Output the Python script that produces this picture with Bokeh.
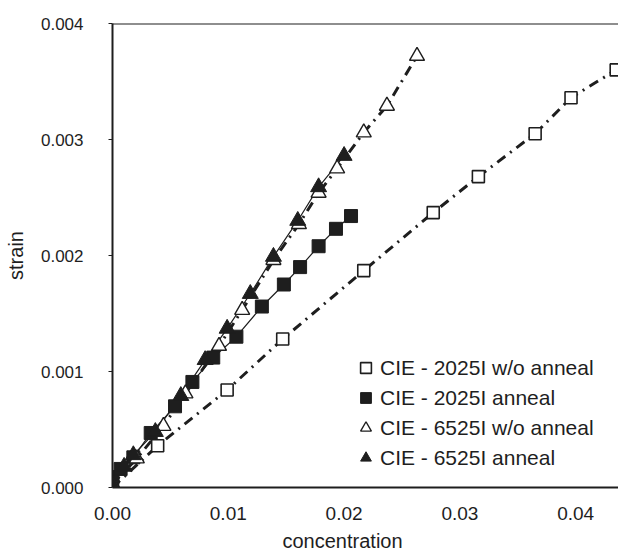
from bokeh.plotting import figure
from bokeh.models import Range1d, FixedTicker, Legend, LegendItem, Span, CustomJSTickFormatter, Title
from bokeh.embed import file_html
from bokeh.resources import INLINE

# 2025I without anneal (open squares)
sq_open_x = [0.0, 0.0039, 0.0099, 0.0147, 0.0217, 0.0277, 0.0316, 0.0365, 0.0396, 0.0435]
sq_open_y = [0.0, 0.00036, 0.00084, 0.00128, 0.00187, 0.00237, 0.00268, 0.00305, 0.00336, 0.00360]

# 2025I anneal (filled squares)
sq_fill_x = [0.0, 0.0007, 0.0018, 0.0033, 0.0054, 0.0069, 0.0087, 0.0107, 0.0129, 0.0148, 0.0162, 0.0178, 0.0193, 0.0206]
sq_fill_y = [0.00009, 0.00016, 0.00026, 0.00047, 0.00070, 0.00091, 0.00112, 0.00130, 0.00156, 0.00175, 0.00190, 0.00208, 0.00223, 0.00234]

# 6525I without anneal (open triangles)
tr_open_x = [0.0, 0.0021, 0.0044, 0.0063, 0.0092, 0.0112, 0.0139, 0.0161, 0.0178, 0.0194, 0.0217, 0.0237, 0.0263]
tr_open_y = [0.00003, 0.00025, 0.00053, 0.00081, 0.00122, 0.00153, 0.00196, 0.00227, 0.00254, 0.00275, 0.00306, 0.00329, 0.00372]

# 6525I anneal (filled triangles)
tr_fill_x = [0.0, 0.0010, 0.0018, 0.0037, 0.0059, 0.0080, 0.0099, 0.0119, 0.0139, 0.0160, 0.0178, 0.0200]
tr_fill_y = [0.00002, 0.00018, 0.00028, 0.00048, 0.00079, 0.00110, 0.00137, 0.00167, 0.00199, 0.00230, 0.00259, 0.00286]

x_ticks = [0.00, 0.01, 0.02, 0.03, 0.04]
y_ticks = [0.000, 0.001, 0.002, 0.003, 0.004]

labels = ["CIE - 2025I w/o anneal", "CIE - 2025I anneal",
          "CIE - 6525I w/o anneal", "CIE - 6525I anneal"]
x_title = "concentration"
y_title = "strain"

INK = "#1e1e1e"
FONT = "Liberation Sans"

p = figure(width=618, height=556, output_backend="svg", toolbar_location=None,
           x_range=Range1d(0, 0.0437), y_range=Range1d(0, 0.004),
           min_border_left=112, min_border_top=23, min_border_right=0, min_border_bottom=69)
p.grid.grid_line_color = None
p.outline_line_color = None
p.background_fill_color = "white"

# lines
p.line(sq_open_x, sq_open_y, line_color=INK, line_width=3, line_dash="10 6 2 6")
p.line(tr_open_x, tr_open_y, line_color=INK, line_width=3, line_dash="10 6 2 6")
p.line(sq_fill_x, sq_fill_y, line_color=INK, line_width=1.2)
p.line(tr_fill_x, tr_fill_y, line_color=INK, line_width=1.2)

r1 = p.scatter(sq_open_x, sq_open_y, marker="square", size=12, fill_color="white", line_color=INK, line_width=1.6)
r2 = p.scatter(sq_fill_x, sq_fill_y, marker="square", size=13, fill_color=INK, line_color=INK, line_width=1)
r3 = p.scatter(tr_open_x, tr_open_y, marker="triangle", size=15, fill_color="white", line_color=INK, line_width=1.4)
r4 = p.scatter(tr_fill_x, tr_fill_y, marker="triangle", size=16, fill_color=INK, line_color=INK, line_width=1)

# top frame line
p.add_layout(Span(location=0.004, dimension="width", line_color=INK, line_width=2))

legend = Legend(items=[LegendItem(label=labels[0], renderers=[r1]),
                       LegendItem(label=labels[1], renderers=[r2]),
                       LegendItem(label=labels[2], renderers=[r3]),
                       LegendItem(label=labels[3], renderers=[r4])],
                location=(240, 16), padding=0, margin=0, spacing=3,
                glyph_height=27, glyph_width=27, label_height=27, label_standoff=1,
                border_line_color=None, background_fill_alpha=0,
                label_text_font=FONT, label_text_font_size="21px", label_text_color=INK)
p.add_layout(legend)

for ax in (p.xaxis[0], p.yaxis[0]):
    ax.axis_line_color = INK
    ax.axis_line_width = 2
    ax.major_label_text_font = FONT
    ax.major_label_text_color = INK
    ax.axis_label_text_font = FONT
    ax.axis_label_text_font_size = "20px"
    ax.axis_label_text_font_style = "normal"
    ax.axis_label_text_color = INK
    ax.minor_tick_line_color = None

p.xaxis.major_label_text_font_size = "19px"
p.yaxis.major_label_text_font_size = "17px"
p.xaxis.ticker = FixedTicker(ticks=x_ticks)
p.yaxis.ticker = FixedTicker(ticks=y_ticks)
p.xaxis.formatter = CustomJSTickFormatter(code="return tick.toFixed(2);")
p.yaxis.formatter = CustomJSTickFormatter(code="return tick.toFixed(3);")
p.xaxis.major_tick_line_color = None
p.xaxis.major_tick_out = 0
p.xaxis.major_tick_in = 0
p.xaxis.major_label_standoff = 19
p.yaxis.major_tick_line_color = INK
p.yaxis.major_tick_out = 4
p.yaxis.major_tick_in = 0
p.yaxis.major_label_standoff = 25
p.yaxis.axis_label = y_title
p.yaxis.axis_label_standoff = 11

# x-axis title, offset to the left as in the original
p.add_layout(Title(text=x_title, align="left", offset=170, standoff=10,
                   text_font=FONT, text_font_size="20px", text_font_style="normal",
                   text_color=INK), "below")

open("out.html", "w").write(file_html(p, INLINE))
